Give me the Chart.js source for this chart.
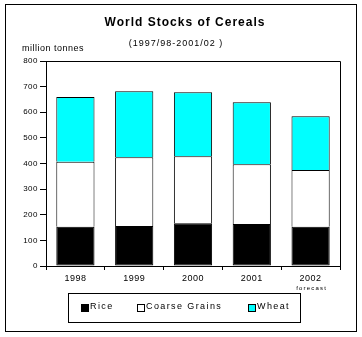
<!DOCTYPE html>
<html>
<head>
<meta charset="utf-8">
<script src="https://cdn.jsdelivr.net/npm/chart.js@4/dist/chart.umd.min.js"></script>
<style>
  html, body { margin: 0; padding: 0; background: #fff; }
  #wrap { width: 362px; height: 337px; position: relative; }
</style>
</head>
<body>
<div id="wrap"><canvas id="c" width="362" height="337"></canvas></div>
<script>
const categories = ['1998', '1999', '2000', '2001', '2002'];
const rice = [153, 156, 167, 164, 153];
const coarseGrains = [254, 268, 261, 233, 222];
const wheat = [253, 258, 250, 242, 209];
const seriesNames = ['Rice', 'Coarse Grains', 'Wheat'];
const yMin = 0, yMax = 800, yStep = 100;
const titleText = 'World Stocks of Cereals';
const subtitleText = '(1997/98-2001/02 )';
const unitText = 'million tonnes';
const forecastNote = 'forecast';

const FONT = '"Liberation Sans", Arial, sans-serif';

const decor = {
  id: 'decor',
  beforeDraw(chart) {
    chart.ctx.letterSpacing = '0.5px';
  },
  afterDraw(chart) {
    const ctx = chart.ctx;
    const ca = chart.chartArea;
    ctx.save();
    ctx.strokeStyle = '#000';
    ctx.lineWidth = 1;
    // outer frame
    ctx.strokeRect(5.5, 4.5, 351, 327);
    // plot frame top/right
    ctx.beginPath();
    ctx.moveTo(Math.round(ca.left) + 0.5, Math.round(ca.top) + 0.5);
    ctx.lineTo(Math.round(ca.right) + 0.5, Math.round(ca.top) + 0.5);
    ctx.lineTo(Math.round(ca.right) + 0.5, Math.round(ca.bottom) + 0.5);
    ctx.stroke();

    ctx.fillStyle = '#000';
    ctx.textBaseline = 'middle';
    // title
    ctx.letterSpacing = '1px';
    ctx.textAlign = 'center';
    ctx.font = 'bold 12px ' + FONT;
    ctx.fillText(titleText, 185, 23);
    ctx.font = '9px ' + FONT;
    ctx.fillText(subtitleText, 176, 44);
    // unit
    ctx.letterSpacing = '0.5px';
    ctx.textAlign = 'left';
    ctx.fillText(unitText, 22, 49);
    // forecast note
    const xs = chart.scales.x;
    ctx.letterSpacing = '1.2px';
    ctx.textAlign = 'center';
    ctx.font = '6px ' + FONT;
    ctx.fillText(forecastNote, xs.getPixelForValue(4) + 1, 288);

    // legend
    ctx.strokeRect(68.5, 293.5, 232, 29);
    const itemX = [81, 137, 248];
    ctx.font = '9px ' + FONT;
    ctx.letterSpacing = '1.4px';
    ctx.textAlign = 'left';
    chart.data.datasets.forEach((ds, i) => {
      const x = itemX[i];
      ctx.fillStyle = ds.backgroundColor;
      ctx.fillRect(x, 304, 7, 7);
      ctx.strokeStyle = '#000';
      ctx.strokeRect(x + 0.5, 304.5, 7, 7);
      ctx.fillStyle = '#000';
      ctx.fillText(ds.label, x + 9, 306.5);
    });
    ctx.restore();
  }
};

new Chart(document.getElementById('c'), {
  type: 'bar',
  data: {
    labels: categories,
    datasets: [
      { label: seriesNames[0], data: rice, backgroundColor: '#000000', borderColor: '#000', borderWidth: 1, borderSkipped: false },
      { label: seriesNames[1], data: coarseGrains, backgroundColor: '#ffffff', borderColor: '#000', borderWidth: 1, borderSkipped: 'bottom' },
      { label: seriesNames[2], data: wheat, backgroundColor: '#00ffff', borderColor: '#000', borderWidth: 1, borderSkipped: 'bottom' }
    ]
  },
  options: {
    responsive: false,
    animation: false,
    devicePixelRatio: 1,
    layout: { padding: { left: 4, top: 61, right: 22, bottom: 51 } },
    datasets: { bar: { barPercentage: 0.65, categoryPercentage: 1 } },
    plugins: {
      legend: { display: false },
      title: { display: false },
      tooltip: { enabled: false }
    },
    scales: {
      x: {
        stacked: true,
        afterFit(s) { s.height = 20; },
        grid: { display: true, drawOnChartArea: false, drawTicks: true, tickLength: 4, color: '#000', offset: true },
        border: { display: true, color: '#000', width: 1 },
        ticks: { color: '#000', font: { family: FONT, size: 9 }, padding: 3, maxRotation: 0 }
      },
      y: {
        stacked: true,
        min: yMin, max: yMax,
        afterFit(s) { s.width = 42; },
        grid: { display: true, drawOnChartArea: false, drawTicks: true, tickLength: 6, color: '#000' },
        border: { display: true, color: '#000', width: 1 },
        ticks: { stepSize: yStep, color: '#000', font: { family: FONT, size: 8 }, padding: 2 }
      }
    }
  },
  plugins: [decor]
});
</script>
</body>
</html>
